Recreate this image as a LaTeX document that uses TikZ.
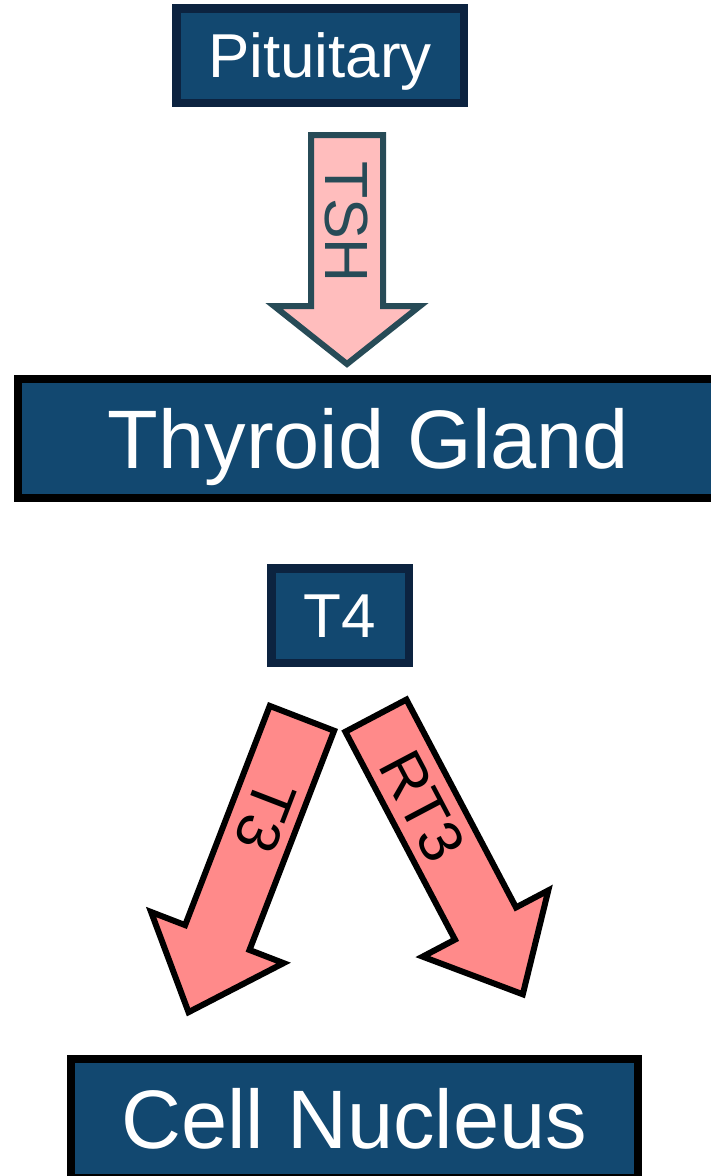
\documentclass[tikz,border=0pt]{standalone}
\usepackage{fontspec}
\setmainfont{Liberation Sans}
\definecolor{boxblue}{HTML}{124870}
\definecolor{navyline}{HTML}{0C2340}
\definecolor{slateline}{HTML}{274B57}
\definecolor{lightpink}{HTML}{FFBDBD}
\definecolor{salmonfill}{HTML}{FF8A8A}
\begin{document}
\begin{tikzpicture}[x=1pt,y=-1pt,
  boxbase/.style={rectangle, fill=boxblue, text=white, inner sep=0pt, line width=8.5pt},
  smallbox/.style={boxbase, draw=navyline, font=\fontsize{62}{62}\selectfont, text height=44.4pt, text depth=0pt},
  bigbox/.style={boxbase, draw=black, line width=8pt, font=\fontsize{83}{83}\selectfont, text height=59.5pt, text depth=0pt},
  tsharrow/.style={draw=slateline, fill=lightpink, line width=6pt, line join=miter},
  redarrow/.style={draw=black, fill=salmonfill, line width=6pt, line join=miter},
  arrowlabel/.style={inner sep=0pt, font=\fontsize{61}{61}\selectfont, text height=43.7pt, text depth=0pt}
]
\useasboundingbox (0,0) rectangle (711,1176);
\clip (0,0) rectangle (711,1176);

% boxes
\node[smallbox, minimum width=287.5pt, minimum height=94.5pt] (pit) at (320,55.5) {Pituitary};
\node[bigbox, minimum width=701pt, minimum height=119pt] (thy) at (368.5,438.5) {Thyroid Gland};
\node[smallbox, minimum width=137.5pt, minimum height=94.5pt] (t4) at (340,615.5) {T4};
\node[bigbox, minimum width=567.4pt, minimum height=119pt] (cell) at (354.3,1118.5) {Cell Nucleus};

% TSH block arrow
\begin{scope}[shift={(347,132)}, rotate=-90]
  \draw[tsharrow] (3,-36) -- (174,-36) -- (174,-73) -- (232,0) -- (174,73) -- (174,36) -- (3,36) -- cycle;
\end{scope}
\node[arrowlabel, text=slateline, rotate=-90] (tsh) at (347,222) {TSH};

% T3 block arrow
\begin{scope}[shift={(303,715.5)}, rotate=-111.1]
  \draw[redarrow] (3,-34.5) -- (238,-34.5) -- (238,-71) -- (318,0) -- (238,71) -- (238,34.5) -- (3,34.5) -- cycle;
\end{scope}
\node[arrowlabel, rotate=-111.1] (t3) at (266,817) {T3};

% RT3 block arrow
\begin{scope}[shift={(374.5,713)}, rotate=-62.2]
  \draw[redarrow] (3,-34.5) -- (238,-34.5) -- (238,-71) -- (318,0) -- (238,71) -- (238,34.5) -- (3,34.5) -- cycle;
\end{scope}
\node[arrowlabel, rotate=-62.2] (rt3) at (423,806) {RT3};
\end{tikzpicture}
\end{document}
